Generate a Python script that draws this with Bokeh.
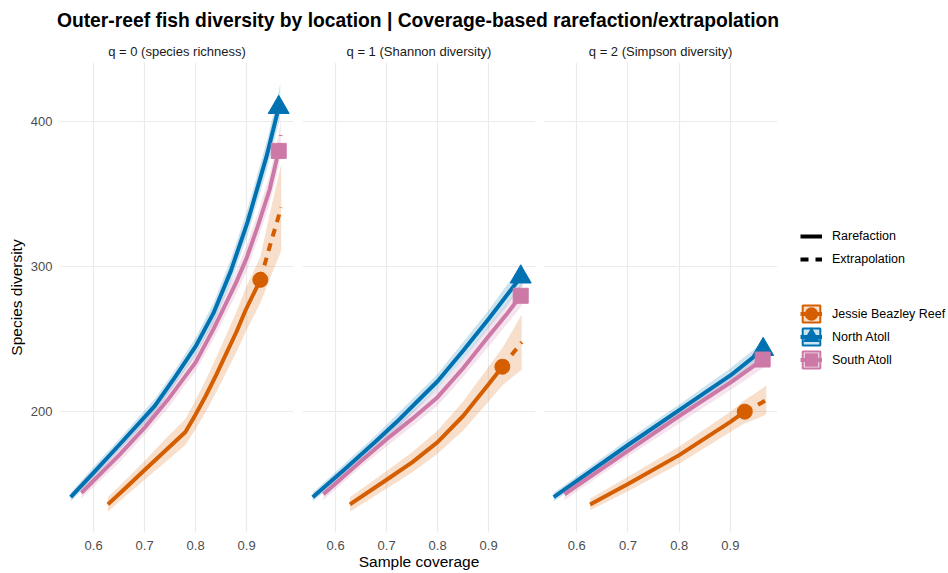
from bokeh.plotting import figure
from bokeh.models import Range1d, FixedTicker, Legend, LegendItem, Label
from bokeh.layouts import row, column
from bokeh.embed import file_html
from bokeh.resources import INLINE

TITLE = "Outer-reef fish diversity by location | Coverage-based rarefaction/extrapolation"
FACETS = ["q = 0 (species richness)", "q = 1 (Shannon diversity)", "q = 2 (Simpson diversity)"]
SITES = ["Jessie Beazley Reef", "North Atoll", "South Atoll"]
COLORS = ["#D55E00", "#0072B2", "#CC79A7"]
MARKERS = ["circle", "triangle", "square"]
MARKER_SIZES = [15, 21, 15]
METHODS = ["Rarefaction", "Extrapolation"]
X_LABEL = "Sample coverage"
Y_LABEL = "Species diversity"
X_TICKS = [0.6, 0.7, 0.8, 0.9]
Y_TICKS = [200, 300, 400]
X_RANGE = (0.535, 0.992)
Y_RANGE = (116.6, 441.0)

# ---- Jessie Beazley Reef ----
JBR_Q0_SC = [0.628, 0.66, 0.70, 0.74, 0.78, 0.80, 0.82, 0.84, 0.86, 0.88, 0.898, 0.927, 0.947, 0.968]
JBR_Q0_QD = [136, 146.5, 159.7, 172.8, 186, 198, 211, 225, 240, 255, 270, 291, 316, 341]
JBR_Q0_LO = [131, 141, 153, 165, 177, 188, 200, 213, 227, 241, 255, 275, 293, 311]
JBR_Q0_HI = [141, 152, 166, 181, 195, 208, 222, 237, 253, 269, 285, 307, 339, 371]
JBR_Q0_OBS = 11

JBR_Q1_SC = [0.628, 0.70, 0.75, 0.80, 0.85, 0.90, 0.927, 0.947, 0.965]
JBR_Q1_QD = [136, 153, 165, 179, 197, 219, 231, 240, 248]
JBR_Q1_LO = [131, 147, 158, 171, 187, 207, 218, 224, 229]
JBR_Q1_HI = [141, 159, 172, 187, 207, 231, 244, 256, 267]
JBR_Q1_OBS = 6

JBR_Q2_SC = [0.626, 0.70, 0.80, 0.90, 0.928, 0.95, 0.97]
JBR_Q2_QD = [136, 150, 170, 193, 200, 204, 208]
JBR_Q2_LO = [132, 145, 164, 186, 192, 195, 198]
JBR_Q2_HI = [140, 155, 176, 200, 208, 213, 218]
JBR_Q2_OBS = 4

# ---- North Atoll ----
NA_Q0_SC = [0.555, 0.60, 0.65, 0.72, 0.76, 0.80, 0.835, 0.869, 0.902, 0.939, 0.963, 0.966]
NA_Q0_QD = [141, 158, 177, 204, 224, 245, 268, 297, 331, 376, 410, 415]
NA_Q0_LO = [138, 154, 173, 199, 219, 239, 261, 289, 322, 366, 399, 403]
NA_Q0_HI = [144, 162, 181, 209, 229, 251, 275, 305, 340, 386, 421, 427]
NA_Q0_OBS = 10

NA_Q1_SC = [0.555, 0.62, 0.68, 0.72, 0.76, 0.80, 0.85, 0.90, 0.935, 0.963, 0.966]
NA_Q1_QD = [141, 161, 180, 193, 207, 221, 242, 264, 280, 293, 295]
NA_Q1_LO = [138, 157, 176, 188, 202, 216, 236, 258, 273, 286, 287]
NA_Q1_HI = [144, 165, 184, 198, 212, 226, 248, 270, 287, 300, 303]
NA_Q1_OBS = 9

NA_Q2_SC = [0.555, 0.70, 0.80, 0.90, 0.964, 0.967]
NA_Q2_QD = [141, 177, 201, 225, 243, 244]
NA_Q2_LO = [138, 173, 197, 220, 238, 238]
NA_Q2_HI = [144, 181, 205, 230, 248, 250]
NA_Q2_OBS = 4

# ---- South Atoll ----
SA_Q0_SC = [0.576, 0.65, 0.70, 0.745, 0.80, 0.835, 0.878, 0.90, 0.921, 0.945, 0.963, 0.967]
SA_Q0_QD = [144, 170, 189, 208, 234, 257, 288, 306, 327, 353, 380, 391]
SA_Q0_LO = [140, 165, 184, 202, 228, 250, 280, 297, 318, 343, 369, 379]
SA_Q0_HI = [148, 175, 194, 214, 240, 264, 296, 315, 336, 363, 391, 403]
SA_Q0_OBS = 10

SA_Q1_SC = [0.576, 0.65, 0.70, 0.75, 0.80, 0.85, 0.90, 0.935, 0.963, 0.967]
SA_Q1_QD = [143, 166, 181, 195, 210, 230, 252, 267, 280, 283]
SA_Q1_LO = [139, 162, 176, 190, 204, 224, 245, 260, 272, 275]
SA_Q1_HI = [147, 170, 186, 200, 216, 236, 259, 274, 288, 291]
SA_Q1_OBS = 8

SA_Q2_SC = [0.576, 0.70, 0.80, 0.90, 0.963, 0.967]
SA_Q2_QD = [143, 173, 197, 220, 236, 237]
SA_Q2_LO = [139, 169, 192, 215, 230, 231]
SA_Q2_HI = [147, 177, 202, 225, 242, 243]
SA_Q2_OBS = 4

CURVES = {
    (0, 0): (JBR_Q0_SC, JBR_Q0_QD, JBR_Q0_LO, JBR_Q0_HI, JBR_Q0_OBS),
    (0, 1): (NA_Q0_SC, NA_Q0_QD, NA_Q0_LO, NA_Q0_HI, NA_Q0_OBS),
    (0, 2): (SA_Q0_SC, SA_Q0_QD, SA_Q0_LO, SA_Q0_HI, SA_Q0_OBS),
    (1, 0): (JBR_Q1_SC, JBR_Q1_QD, JBR_Q1_LO, JBR_Q1_HI, JBR_Q1_OBS),
    (1, 1): (NA_Q1_SC, NA_Q1_QD, NA_Q1_LO, NA_Q1_HI, NA_Q1_OBS),
    (1, 2): (SA_Q1_SC, SA_Q1_QD, SA_Q1_LO, SA_Q1_HI, SA_Q1_OBS),
    (2, 0): (JBR_Q2_SC, JBR_Q2_QD, JBR_Q2_LO, JBR_Q2_HI, JBR_Q2_OBS),
    (2, 1): (NA_Q2_SC, NA_Q2_QD, NA_Q2_LO, NA_Q2_HI, NA_Q2_OBS),
    (2, 2): (SA_Q2_SC, SA_Q2_QD, SA_Q2_LO, SA_Q2_HI, SA_Q2_OBS),
}

FONT = "Liberation Sans"
DASH = "8 7"
TITLE_H = 34
FRAME_H = 470
TOP_B = 28
BOT_B = 40
NAN = float("nan")


def make_panel(qi, frame_w, border_left, border_right, show_y, show_xlabel):
    p = figure(title=FACETS[qi], frame_width=frame_w, frame_height=FRAME_H,
               x_range=Range1d(*X_RANGE), y_range=Range1d(*Y_RANGE),
               toolbar_location=None, output_backend="svg",
               min_border_left=border_left, min_border_right=border_right,
               min_border_top=TOP_B, min_border_bottom=BOT_B,
               y_axis_location="left" if show_y else None)
    p.title.align = "center"
    p.title.text_font = FONT
    p.title.text_font_size = "13px"
    p.title.text_font_style = "normal"
    p.title.text_color = "#1A1A1A"
    p.title.standoff = 8
    p.outline_line_color = None
    p.background_fill_color = "white"
    p.border_fill_color = "white"

    p.xgrid.ticker = FixedTicker(ticks=X_TICKS)
    p.ygrid.ticker = FixedTicker(ticks=Y_TICKS)
    p.grid.grid_line_color = "#EBEBEB"
    p.grid.grid_line_width = 1.2

    axes = list(p.xaxis) + (list(p.yaxis) if show_y else [])
    for ax in axes:
        ax.axis_line_color = None
        ax.major_tick_line_color = None
        ax.minor_tick_line_color = None
        ax.major_tick_out = 0
        ax.major_tick_in = 0
        ax.minor_tick_out = 0
        ax.minor_tick_in = 0
        ax.major_label_text_font = FONT
        ax.major_label_text_font_size = "13px"
        ax.major_label_text_color = "#4D4D4D"
        ax.axis_label_text_font = FONT
        ax.axis_label_text_font_size = "15.5px"
        ax.axis_label_text_font_style = "normal"
        ax.axis_label_text_color = "black"
    p.xaxis.ticker = FixedTicker(ticks=X_TICKS)
    p.xaxis.major_label_standoff = 8
    p.xaxis.axis_label_standoff = 0
    if show_xlabel:
        p.xaxis.axis_label = X_LABEL
    if show_y:
        p.yaxis.ticker = FixedTicker(ticks=Y_TICKS)
        p.yaxis.major_label_standoff = 8
        p.yaxis.axis_label_standoff = 3
        p.yaxis.axis_label = Y_LABEL

    for si in range(len(SITES)):
        sc, qd, lo, hi, obs = CURVES[(qi, si)]
        p.varea(x=sc, y1=lo, y2=hi, fill_color=COLORS[si], fill_alpha=0.2)
    for si in range(len(SITES)):
        sc, qd, lo, hi, obs = CURVES[(qi, si)]
        p.line(sc[:obs + 1], qd[:obs + 1], line_color=COLORS[si], line_width=4,
               line_join="round")
        p.line(sc[obs:], qd[obs:], line_color=COLORS[si], line_width=4,
               line_dash=DASH, line_join="round")
    for si in range(len(SITES)):
        sc, qd, lo, hi, obs = CURVES[(qi, si)]
        p.scatter([sc[obs]], [qd[obs]], marker=MARKERS[si], size=MARKER_SIZES[si],
                  fill_color=COLORS[si], line_color=COLORS[si], line_width=1)
    return p


p1 = make_panel(0, 233, 60, 9, True, False)
p2 = make_panel(1, 233, 0, 8, False, True)
p3 = make_panel(2, 234, 0, 0, False, False)

PANEL_H = TOP_B + FRAME_H + BOT_B

# ---- legend area (key-only renderers hold no visible data) ----
lg = figure(width=170, height=PANEL_H, x_range=Range1d(0, 1), y_range=Range1d(0, 1),
            toolbar_location=None, output_backend="svg", min_border=0,
            x_axis_location=None, y_axis_location=None, title=None)
lg.grid.visible = False
lg.outline_line_color = None

r_solid = lg.line([NAN], [NAN], line_color="black", line_width=4)
r_dash = lg.line([NAN], [NAN], line_color="black", line_width=4, line_dash=DASH)
leg_method = Legend(items=[LegendItem(label=METHODS[0], renderers=[r_solid]),
                           LegendItem(label=METHODS[1], renderers=[r_dash])],
                    location=(23, 262), orientation="vertical",
                    glyph_width=22, glyph_height=22, spacing=1, padding=0, margin=0,
                    label_standoff=10, label_height=12, label_width=10,
                    label_text_font=FONT, label_text_font_size="12.5px",
                    label_text_color="black", border_line_color=None,
                    background_fill_alpha=0)
lg.add_layout(leg_method)

site_items = []
for si, name in enumerate(SITES):
    rb = lg.quad(left=[NAN], right=[NAN], top=[NAN], bottom=[NAN], fill_color=COLORS[si],
                 fill_alpha=0.2, line_color=COLORS[si], line_width=2)
    rl = lg.line([NAN], [NAN], line_color=COLORS[si], line_width=4)
    rm = lg.scatter([NAN], [NAN], marker=MARKERS[si], fill_color=COLORS[si],
                    line_color=COLORS[si], line_width=5, line_join="miter")
    site_items.append(LegendItem(label=name, renderers=[rb, rl, rm]))
leg_site = Legend(items=site_items, location=(23, 162), orientation="vertical",
                  glyph_width=22, glyph_height=21, spacing=2, padding=0, margin=0,
                  label_standoff=10, label_height=12, label_width=10,
                  label_text_font=FONT, label_text_font_size="12.5px",
                  label_text_color="black", border_line_color=None,
                  background_fill_alpha=0)
lg.add_layout(leg_site)

# ---- main title ----
tf = figure(width=940, height=TITLE_H, x_range=Range1d(0, 940), y_range=Range1d(0, TITLE_H),
            toolbar_location=None, output_backend="svg", min_border=0,
            x_axis_location=None, y_axis_location=None, title=None)
tf.grid.visible = False
tf.outline_line_color = None
tf.add_layout(Label(x=417.5, y=14, text=TITLE, text_align="center",
                    text_baseline="middle", text_font=FONT, text_font_size="19.3px",
                    text_font_style="bold", text_color="black"))

layout = column(tf, row(p1, p2, p3, lg, spacing=0), spacing=0)

with open("out.html", "w") as f:
    f.write(file_html(layout, INLINE))
